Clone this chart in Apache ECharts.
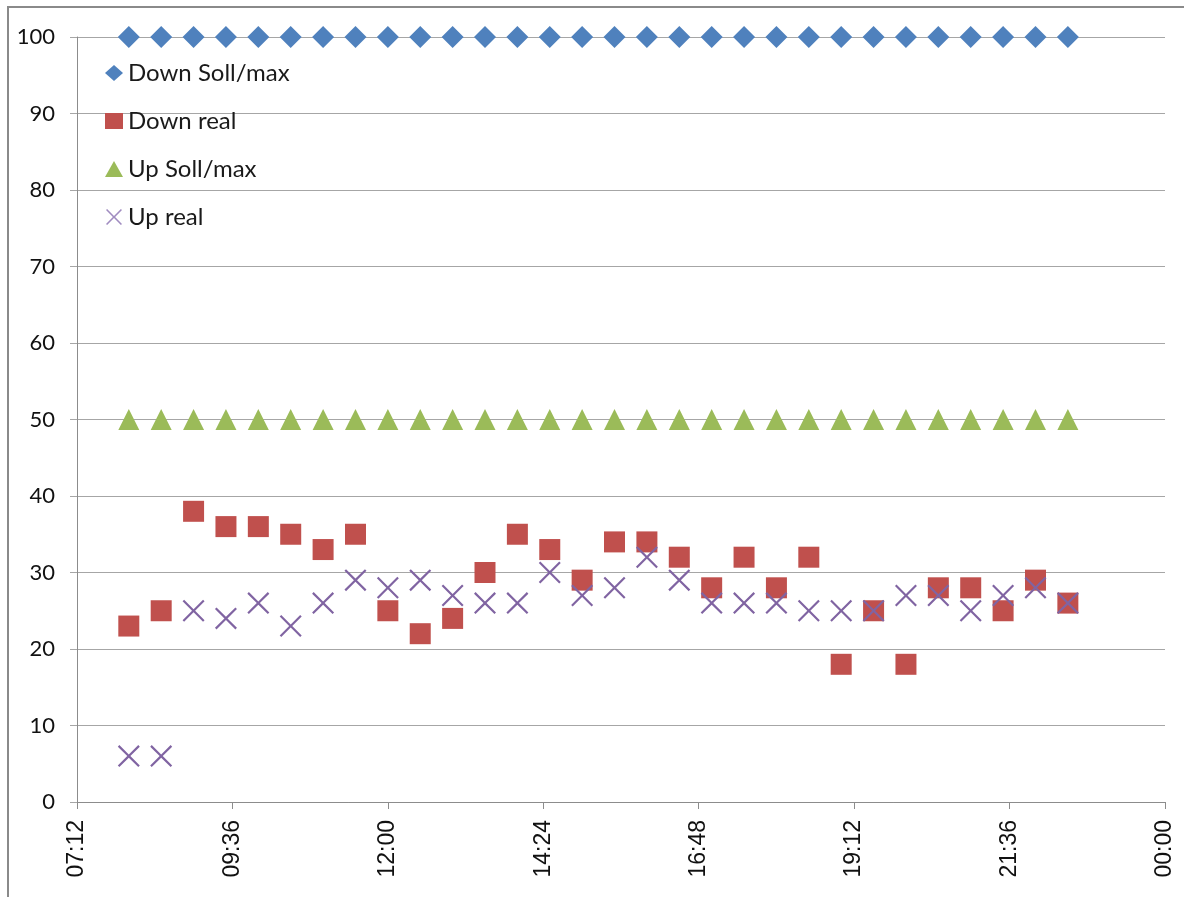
<!DOCTYPE html>
<html>
<head>
<meta charset="utf-8">
<script src="https://cdn.jsdelivr.net/npm/echarts@6/dist/echarts.min.js"></script>
<style>
  html, body { margin: 0; padding: 0; background: #ffffff; }
  #chart { width: 1184px; height: 897px; }
</style>
</head>
<body>
<div id="chart"></div>
<script>
// Half-hourly readings, 08:00 to 22:30
const times = [
  '08:00','08:30','09:00','09:30','10:00','10:30','11:00','11:30','12:00','12:30',
  '13:00','13:30','14:00','14:30','15:00','15:30','16:00','16:30','17:00','17:30',
  '18:00','18:30','19:00','19:30','20:00','20:30','21:00','21:30','22:00','22:30'
];
const downSollMax = [100,100,100,100,100,100,100,100,100,100,100,100,100,100,100,100,100,100,100,100,100,100,100,100,100,100,100,100,100,100];
const downReal    = [23,25,38,36,36,35,33,35,25,22,24,30,35,33,29,34,34,32,28,32,28,32,18,25,18,28,28,25,29,26];
const upSollMax   = [50,50,50,50,50,50,50,50,50,50,50,50,50,50,50,50,50,50,50,50,50,50,50,50,50,50,50,50,50,50];
const upReal      = [6,6,25,24,26,23,26,29,28,29,27,26,26,30,27,28,32,29,26,26,26,25,25,25,27,27,25,27,28,26];
const seriesNames = ['Down Soll/max', 'Down real', 'Up Soll/max', 'Up real'];
// x axis runs 07:12 .. 00:00 in steps of 2:24 (minutes of the day)
const xMin = 432, xMax = 1440, xStep = 144;

function toMinutes(t) {
  const p = t.split(':');
  return Number(p[0]) * 60 + Number(p[1]);
}
function fmtTime(m) {
  const mm = Math.round(m) % 1440;
  const h = Math.floor(mm / 60), mi = mm % 60;
  return String(h).padStart(2, '0') + ':' + String(mi).padStart(2, '0');
}
function pairs(vals) {
  return times.map((t, i) => [toMinutes(t), vals[i]]);
}

const crossPath = 'path://M0,1.4L1.4,0L10,8.6L18.6,0L20,1.4L11.4,10L20,18.6L18.6,20L10,11.4L1.4,20L0,18.6L8.6,10Z';
const colors = ['#4F81BD', '#C0504D', '#9BBB59', '#8064A2'];

const chart = echarts.init(document.getElementById('chart'), null, { renderer: 'canvas' });
chart.setOption({
  animation: false,
  backgroundColor: '#ffffff',
  graphic: [{
    type: 'rect',
    shape: { x: 8, y: 7, width: 1200, height: 1000 },
    style: { fill: 'none', stroke: '#8a8a8a', lineWidth: 2 },
    silent: true,
    z: 0
  }],
  grid: { left: 77, right: 19, top: 37, bottom: 95, containLabel: false },
  legend: {
    orient: 'vertical',
    left: 100,
    top: 56,
    itemWidth: 18,
    itemHeight: 16,
    itemGap: 24,
    selectedMode: false,
    textStyle: { fontFamily: 'Lato', fontSize: 24, color: '#1a1a1a', lineHeight: 22 },
    data: [
      { name: seriesNames[0], icon: 'diamond', itemStyle: { color: colors[0] } },
      { name: seriesNames[1], icon: 'rect', itemStyle: { color: colors[1] } },
      { name: seriesNames[2], icon: 'triangle', itemStyle: { color: colors[2] } },
      { name: seriesNames[3], icon: crossPath, itemStyle: { color: '#a08cc0' } }
    ]
  },
  xAxis: {
    type: 'value',
    min: xMin,
    max: xMax,
    interval: xStep,
    axisLine: { show: true, lineStyle: { color: '#8c8c8c', width: 1 } },
    axisTick: { show: true, length: 7, lineStyle: { color: '#8c8c8c' } },
    splitLine: { show: false },
    axisLabel: {
      rotate: 90,
      margin: 18,
      fontFamily: 'Liberation Sans',
      fontSize: 23,
      color: '#111',
      formatter: v => fmtTime(v)
    }
  },
  yAxis: {
    type: 'value',
    min: 0,
    max: 100,
    interval: 10,
    axisLine: { show: true, lineStyle: { color: '#8c8c8c', width: 1 } },
    axisTick: { show: true, length: 7, lineStyle: { color: '#a6a6a6' } },
    splitLine: { show: true, lineStyle: { color: '#a6a6a6', width: 1 } },
    axisLabel: { margin: 22, fontFamily: 'Lato', fontSize: 22, color: '#111' }
  },
  series: [
    { name: seriesNames[0], type: 'scatter', symbol: 'diamond', symbolSize: 22,
      itemStyle: { color: colors[0], opacity: 1 }, data: pairs(downSollMax) },
    { name: seriesNames[1], type: 'scatter', symbol: 'rect', symbolSize: 21,
      itemStyle: { color: colors[1], opacity: 1 }, data: pairs(downReal) },
    { name: seriesNames[2], type: 'scatter', symbol: 'triangle', symbolSize: 21,
      itemStyle: { color: colors[2], opacity: 1 }, data: pairs(upSollMax) },
    { name: seriesNames[3], type: 'scatter', symbol: crossPath, symbolSize: 22,
      itemStyle: { color: colors[3], opacity: 1 }, data: pairs(upReal) }
  ]
});
</script>
</body>
</html>
